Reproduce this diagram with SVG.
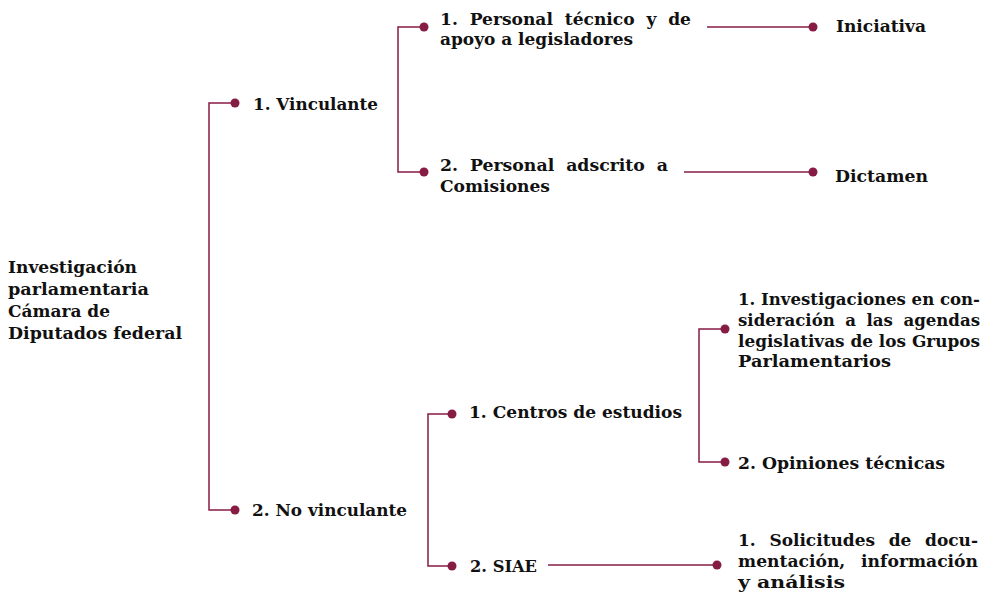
<svg xmlns="http://www.w3.org/2000/svg" width="993" height="599" viewBox="0 0 993 599">
<style>
text{font-family:"DejaVu Serif","Liberation Serif",serif;font-weight:bold;font-size:17.5px;fill:#111}
.c{fill:none;stroke:#861c44;stroke-width:1.5}
.d{fill:#861c44}
</style>
<rect width="993" height="599" fill="#fff"/>
<g id="connectors">
<path class="c" d="M235,103 H209 V510 H235"/>
<path class="c" d="M424,27 H398 V172 H424"/>
<path class="c" d="M707,27 H813"/>
<path class="c" d="M684,172 H813"/>
<path class="c" d="M452,414 H428 V566 H452"/>
<path class="c" d="M548,565 H717"/>
<path class="c" d="M725,329 H699 V462 H725"/>
<circle class="d" cx="235" cy="103" r="4.5"/>
<circle class="d" cx="235" cy="510" r="4.5"/>
<circle class="d" cx="424" cy="27" r="4.5"/>
<circle class="d" cx="424" cy="172" r="4.5"/>
<circle class="d" cx="813" cy="27" r="4.5"/>
<circle class="d" cx="813" cy="172" r="4.5"/>
<circle class="d" cx="452" cy="414" r="4.5"/>
<circle class="d" cx="452" cy="566" r="4.5"/>
<circle class="d" cx="717" cy="565" r="4.5"/>
<circle class="d" cx="725" cy="329" r="4.5"/>
<circle class="d" cx="725" cy="462" r="4.5"/>
</g>
<g id="root">
<text x="8" y="273" textLength="129" lengthAdjust="spacingAndGlyphs">Investigación</text>
<text x="8" y="295" textLength="141" lengthAdjust="spacingAndGlyphs">parlamentaria</text>
<text x="8" y="317" textLength="102" lengthAdjust="spacingAndGlyphs">Cámara de</text>
<text x="8" y="339" textLength="174" lengthAdjust="spacingAndGlyphs">Diputados federal</text>
</g>
<g id="vinculante">
<text x="253" y="110" textLength="125" lengthAdjust="spacingAndGlyphs">1. Vinculante</text>
</g>
<g id="no-vinculante">
<text x="252" y="516" textLength="155" lengthAdjust="spacingAndGlyphs">2. No vinculante</text>
</g>
<g id="personal-tecnico">
<text x="440" y="25" textLength="251" lengthAdjust="spacingAndGlyphs" word-spacing="6">1. Personal técnico y de</text>
<text x="440" y="45" textLength="193" lengthAdjust="spacingAndGlyphs">apoyo a legisladores</text>
</g>
<g id="personal-adscrito">
<text x="440" y="171" textLength="228" lengthAdjust="spacingAndGlyphs" word-spacing="6">2. Personal adscrito a</text>
<text x="440" y="192" textLength="110" lengthAdjust="spacingAndGlyphs">Comisiones</text>
</g>
<g id="iniciativa">
<text x="836" y="32" textLength="90" lengthAdjust="spacingAndGlyphs">Iniciativa</text>
</g>
<g id="dictamen">
<text x="835" y="182" textLength="93" lengthAdjust="spacingAndGlyphs">Dictamen</text>
</g>
<g id="centros">
<text x="469" y="418" textLength="213" lengthAdjust="spacingAndGlyphs">1. Centros de estudios</text>
</g>
<g id="siae">
<text x="470" y="572" textLength="67" lengthAdjust="spacingAndGlyphs">2. SIAE</text>
</g>
<g id="investigaciones">
<text x="738" y="305" textLength="242" lengthAdjust="spacingAndGlyphs">1. Investigaciones en con-</text>
<text x="738" y="326" textLength="242" lengthAdjust="spacingAndGlyphs" word-spacing="5">sideración a las agendas</text>
<text x="738" y="347" textLength="242" lengthAdjust="spacingAndGlyphs">legislativas de los Grupos</text>
<text x="738" y="367" textLength="153" lengthAdjust="spacingAndGlyphs">Parlamentarios</text>
</g>
<g id="opiniones">
<text x="738" y="469" textLength="207" lengthAdjust="spacingAndGlyphs">2. Opiniones técnicas</text>
</g>
<g id="solicitudes">
<text x="738" y="546" textLength="240" lengthAdjust="spacingAndGlyphs" word-spacing="8">1. Solicitudes de docu-</text>
<text x="738" y="567" textLength="240" lengthAdjust="spacingAndGlyphs" word-spacing="10">mentación, información</text>
<text x="738" y="588" textLength="107" lengthAdjust="spacingAndGlyphs">y análisis</text>
</g>
</svg>
